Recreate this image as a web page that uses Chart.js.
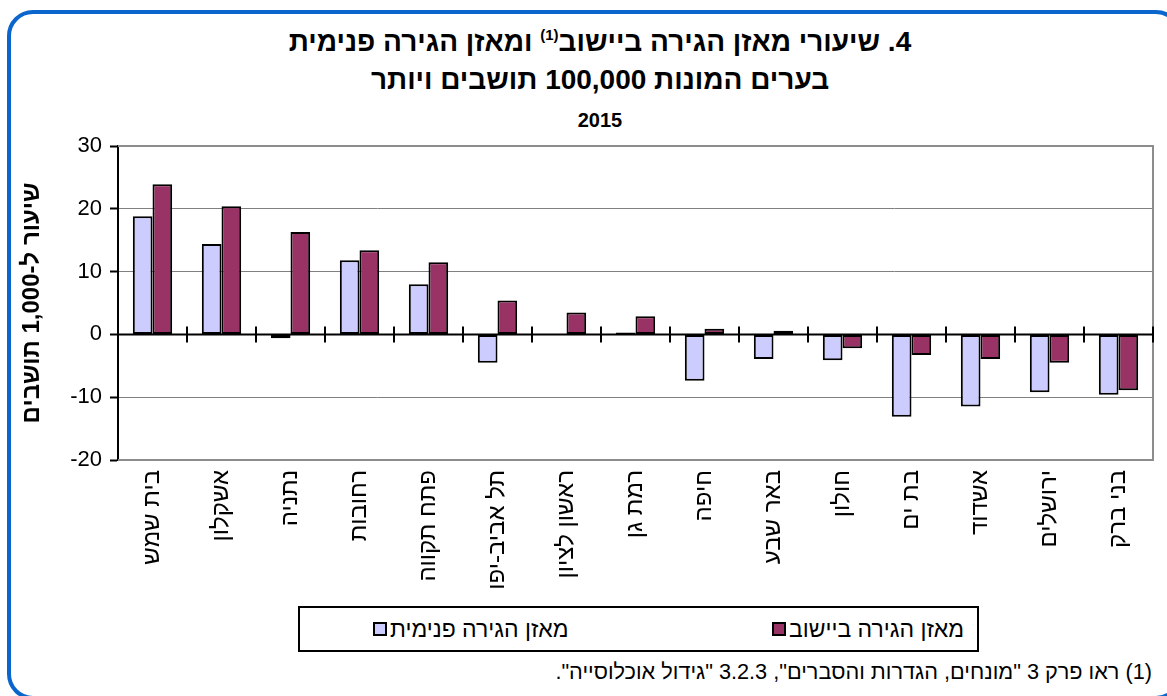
<!DOCTYPE html>
<html lang="he">
<head>
<meta charset="utf-8">
<title>מאזן הגירה 2015</title>
<script src="https://cdn.jsdelivr.net/npm/chart.js@4.4.1/dist/chart.umd.min.js"></script>
<style>
  body { margin: 0; background: #fff; font-family: "Liberation Sans", Arial, sans-serif; color: #000; }
  #wrap { position: relative; width: 1167px; height: 696px; overflow: hidden; background: #fff; }
  #frame { position: absolute; left: 7px; top: 10px; width: 1175px; height: 690px; border: 4px solid #0a66cc; border-radius: 26px; box-sizing: border-box; }
  #title { position: absolute; left: 33px; top: 23px; width: 1134px; text-align: center; direction: rtl; font-weight: bold; font-size: 28px; line-height: 38px; }
  #title sup { font-size: 15px; line-height: 0; vertical-align: 11px; }
  #title .year { font-size: 20px; }
  #chart-box { position: absolute; left: 0; top: 0; width: 1167px; height: 600px; }
  #legend { position: absolute; left: 298px; top: 606px; width: 681px; height: 46px; border: 2px solid #000; box-sizing: border-box; }
  .item { position: absolute; top: 8px; display: flex; align-items: center; font-size: 23px; line-height: 26px; white-space: nowrap; }
  .swatch { width: 10px; height: 10px; border: 2px solid #000; margin-right: 3px; }
  #note { position: absolute; right: 15px; top: 660px; direction: rtl; font-size: 21.7px; line-height: 24px; white-space: nowrap; }
</style>
</head>
<body>
<div id="wrap">
  <div id="frame"></div>
  <div id="title">4. שיעורי מאזן הגירה ביישוב<sup>(1)</sup> ומאזן הגירה פנימית<br>בערים המונות 100,000 תושבים ויותר<br><span class="year">2015</span></div>
  <div id="chart-box"><canvas id="chart"></canvas></div>
  <div id="legend"></div>
  <div id="note">(1) ראו פרק 3 "מונחים, הגדרות והסברים", 3.2.3 "גידול אוכלוסייה".</div>
</div>
<script>
// data (rate per 1,000 residents)
const cities = ['בית שמש', 'אשקלון', 'נתניה', 'רחובות', 'פתח תקווה', 'תל אביב-יפו', 'ראשון לציון', 'רמת גן', 'חיפה', 'באר שבע', 'חולון', 'בת ים', 'אשדוד', 'ירושלים', 'בני ברק'];
const internalBalance = [18.8, 14.4, -0.6, 11.8, 8.0, -4.5, 0.0, 0.3, -7.4, -3.9, -4.1, -13.1, -11.5, -9.2, -9.6];
const localityBalance = [23.9, 20.4, 16.3, 13.4, 11.5, 5.4, 3.5, 2.9, 0.9, 0.6, -2.2, -3.3, -3.9, -4.5, -8.9];
const yMin = -20;
const yMax = 30;
const yStep = 10;

const seriesNames = ['מאזן הגירה פנימית', 'מאזן הגירה ביישוב'];
const seriesColors = ['#ccccff', '#993366'];
const fontFamily = '"Liberation Sans", Arial, sans-serif';

// gray box round the plot, black zero line with category ticks
const plotLines = {
  id: 'plotLines',
  beforeDatasetsDraw(chart) {
    const { ctx, chartArea: a } = chart;
    ctx.save();
    ctx.strokeStyle = '#8c8c8c';
    ctx.lineWidth = 2;
    ctx.beginPath();
    ctx.moveTo(a.left, a.top);
    ctx.lineTo(a.right, a.top);
    ctx.lineTo(a.right, a.bottom);
    ctx.lineTo(a.left, a.bottom);
    ctx.stroke();
    ctx.restore();
  },
  afterDatasetsDraw(chart) {
    const { ctx, chartArea: a, scales } = chart;
    const y0 = scales.y.getPixelForValue(0);
    ctx.save();
    ctx.strokeStyle = '#000';
    ctx.lineWidth = 2;
    ctx.beginPath();
    ctx.moveTo(a.left, y0);
    ctx.lineTo(a.right, y0);
    for (let i = 1; i <= cities.length; i++) {
      const xp = i < cities.length
        ? (scales.x.getPixelForValue(i - 1) + scales.x.getPixelForValue(i)) / 2
        : a.right;
      ctx.moveTo(xp, y0 - 8);
      ctx.lineTo(xp, y0 + 8);
    }
    ctx.stroke();
    ctx.restore();
  }
};

const ctx = document.getElementById('chart').getContext('2d');
const chart = new Chart(ctx, {
  type: 'bar',
  data: {
    labels: cities,
    datasets: [
      { label: seriesNames[0], data: internalBalance, backgroundColor: seriesColors[0] },
      { label: seriesNames[1], data: localityBalance, backgroundColor: seriesColors[1] }
    ]
  },
  options: {
    responsive: true,
    maintainAspectRatio: false,
    animation: false,
    datasets: {
      bar: {
        borderColor: '#000',
        borderWidth: 2,
        borderSkipped: false,
        categoryPercentage: 0.57,
        barPercentage: 1
      }
    },
    layout: { padding: { left: 18, right: 14, top: 146, bottom: 0 } },
    plugins: {
      legend: { display: false },
      tooltip: { enabled: false }
    },
    scales: {
      x: {
        grid: { display: false, drawTicks: false },
        border: { display: false },
        ticks: {
          autoSkip: false, minRotation: 90, maxRotation: 90, padding: 10,
          color: '#000', font: { family: fontFamily, size: 24 }
        },
        afterFit: s => { s.height = 140; }
      },
      y: {
        min: yMin,
        max: yMax,
        ticks: { stepSize: yStep, padding: 8, color: '#000', font: { family: fontFamily, size: 22 } },
        grid: {
          color: c => (c.tick && (c.tick.value === 0 || c.tick.value === yMax || c.tick.value === yMin)) ? 'rgba(0,0,0,0)' : '#808080',
          lineWidth: 1,
          tickColor: '#000',
          tickWidth: 2,
          tickLength: 8
        },
        border: { display: true, color: '#000', width: 2 },
        title: {
          display: true,
          text: 'שיעור ל-1,000 תושבים',
          color: '#000',
          font: { family: fontFamily, size: 24, weight: 'bold' },
          padding: { top: 0, bottom: 0 }
        },
        afterFit: s => { s.width = 100; }
      }
    }
  },
  plugins: [plotLines]
});

// legend box, drawn from the same series lists
const legendEl = document.getElementById('legend');
const legendLeft = [73, 472];
seriesNames.forEach((name, i) => {
  const item = document.createElement('div');
  item.className = 'item';
  item.style.left = legendLeft[i] + 'px';
  const sw = document.createElement('span');
  sw.className = 'swatch';
  sw.style.background = seriesColors[i];
  const tx = document.createElement('span');
  tx.textContent = name;
  item.appendChild(sw);
  item.appendChild(tx);
  legendEl.appendChild(item);
});
</script>
</body>
</html>
